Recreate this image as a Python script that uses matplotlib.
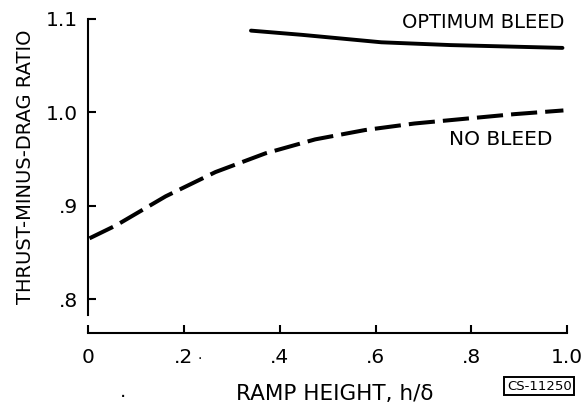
import matplotlib
matplotlib.use("Agg")
import matplotlib.pyplot as plt

# values
ramp_no_bleed = [0.003, 0.059, 0.162, 0.266, 0.370, 0.474, 0.578, 0.681, 0.785, 0.889, 0.992]
ratio_no_bleed = [0.865, 0.879, 0.910, 0.936, 0.956, 0.971, 0.981, 0.988, 0.993, 0.998, 1.002]
ramp_opt = [0.34, 0.446, 0.612, 0.757, 0.99]
ratio_opt = [1.0875, 1.083, 1.075, 1.072, 1.069]

x_ticks = [0, 0.2, 0.4, 0.6, 0.8, 1.0]
x_labels = ["0", ".2", ".4", ".6", ".8", "1.0"]
y_ticks = [0.8, 0.9, 1.0, 1.1]
y_labels = [".8", ".9", "1.0", "1.1"]

plt.rcParams['font.family'] = ['DejaVu Sans']

fig = plt.figure(figsize=(5.83, 4.12), dpi=100)
ax = fig.add_axes([0.151, 0.192, 0.822, 0.762])

ax.plot(ramp_opt, ratio_opt, color='black', lw=2.8, solid_capstyle='round')
ax.plot(ramp_no_bleed, ratio_no_bleed, color='black', lw=2.9, dashes=(6.5, 2))

ax.set_xlim(0, 1.0)
ax.set_ylim(0.7637, 1.1)
ax.spines['top'].set_visible(False)
ax.spines['right'].set_visible(False)
ax.spines['left'].set_linewidth(1.5)
ax.spines['bottom'].set_linewidth(1.5)
ax.spines['left'].set_bounds(0.783, 1.1)

ax.set_xticks(x_ticks)
ax.set_xticklabels(x_labels)
ax.set_yticks(y_ticks)
ax.set_yticklabels(y_labels)
ax.tick_params(direction='in', length=6, width=1.5, labelsize=14.5)
ax.tick_params(axis='x', pad=11)
ax.tick_params(axis='y', pad=7)

ax.text(0.995, 1.096, "OPTIMUM BLEED", ha='right', va='center', fontsize=14)
ax.text(0.969, 0.971, "NO BLEED", ha='right', va='center', fontsize=14.5)

fig.text(0.043, 0.595, "THRUST-MINUS-DRAG RATIO", rotation=90, ha='center', va='center', fontsize=14)
fig.text(0.575, 0.044, "RAMP HEIGHT, h/δ", ha='center', va='center', fontsize=15.5)
fig.text(0.925, 0.063, "CS-11250", ha='center', va='center', fontsize=9.5,
         bbox=dict(boxstyle='square,pad=0.2', facecolor='white', edgecolor='black', lw=1.4))

# stray specks from the scan
fig.text(0.211, 0.034, "·", ha='center', va='center', fontsize=14)
fig.text(0.343, 0.129, "·", ha='center', va='center', fontsize=10)

fig.savefig("out.png", dpi=100)
